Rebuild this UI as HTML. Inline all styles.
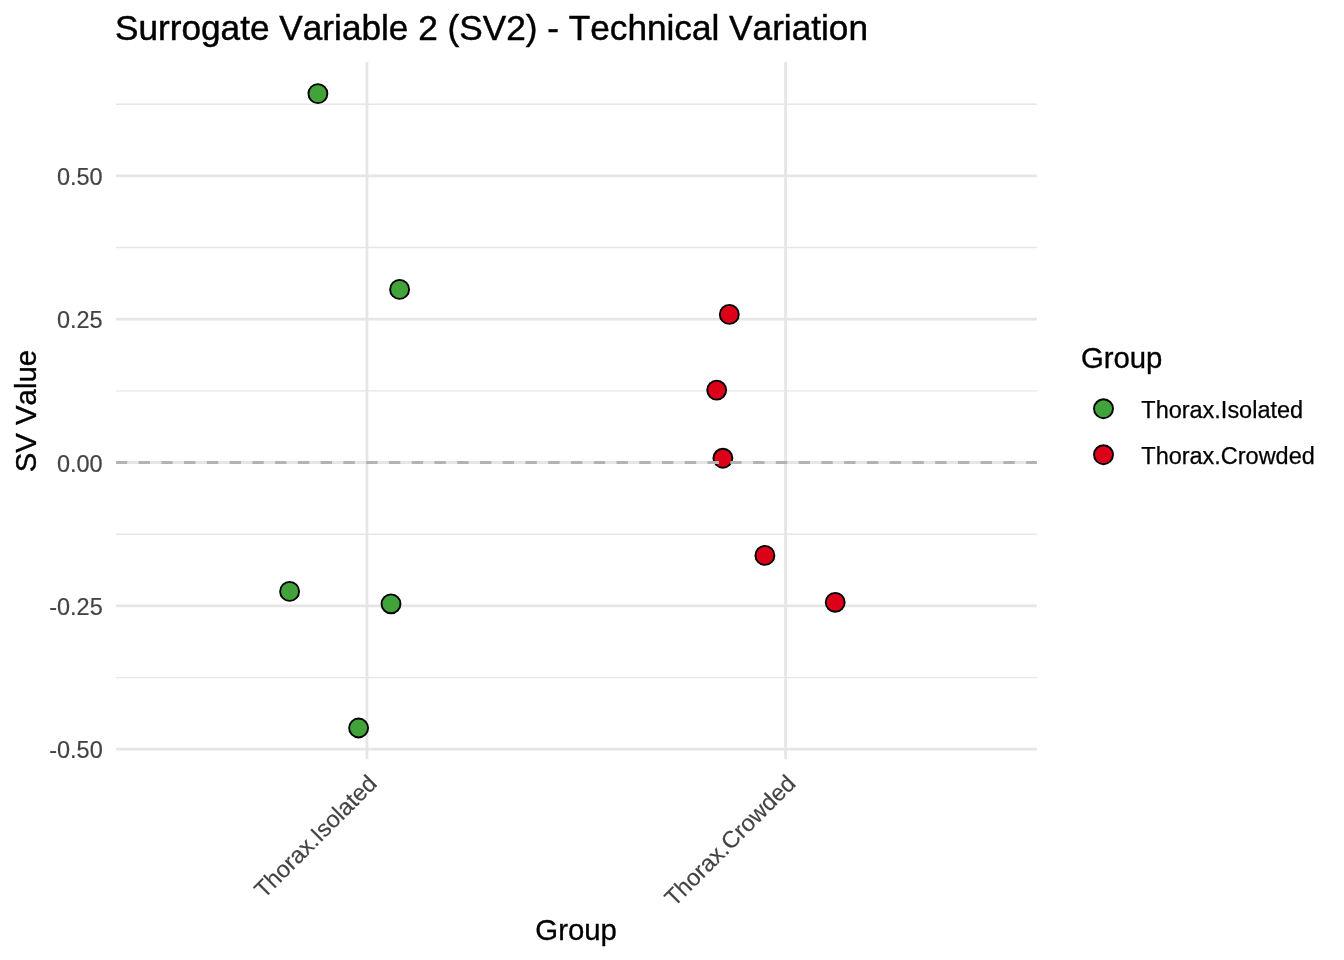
<!DOCTYPE html>
<html>
<head>
<meta charset="utf-8">
<title>Surrogate Variable 2 (SV2) - Technical Variation</title>
<style>
  html, body { margin: 0; padding: 0; background: #ffffff; }
  body { width: 1344px; height: 960px; overflow: hidden; }
  svg { display: block; will-change: transform; }
  text { font-family: "Liberation Sans", sans-serif; font-kerning: none; font-feature-settings: "kern" 0, "liga" 0; }
  .title { font-size: 35.2px; fill: #000000; stroke: #000000; stroke-width: 0.45px; }
  .axt { font-size: 29.33px; fill: #000000; stroke: #000000; stroke-width: 0.32px; }
  .tick { font-size: 23.47px; fill: #434343; stroke: #434343; stroke-width: 0.18px; }
  .leg { font-size: 23.47px; fill: #000000; stroke: #000000; stroke-width: 0.25px; }
  .maj { stroke: #e6e6e6; stroke-width: 2.84; fill: none; }
  .min { stroke: #e6e6e6; stroke-width: 1.42; fill: none; }
  .pt { stroke: #000000; stroke-width: 1.89; }
  .g { fill: #43a33b; }
  .r { fill: #dc0019; }
</style>
</head>
<body>
<svg width="1344" height="960" viewBox="0 0 1344 960">
  <rect x="0" y="0" width="1344" height="960" fill="#ffffff"/>

  <!-- title -->
  <text class="title" x="115.0" y="40">Surrogate Variable 2 (SV2) - Technical Variation</text>

  <!-- minor horizontal gridlines -->
  <g class="min">
    <line x1="116.1" x2="1036.8" y1="104.2" y2="104.2"/>
    <line x1="116.1" x2="1036.8" y1="247.5" y2="247.5"/>
    <line x1="116.1" x2="1036.8" y1="390.9" y2="390.9"/>
    <line x1="116.1" x2="1036.8" y1="534.2" y2="534.2"/>
    <line x1="116.1" x2="1036.8" y1="677.6" y2="677.6"/>
  </g>
  <!-- major horizontal gridlines -->
  <g class="maj">
    <line x1="116.1" x2="1036.8" y1="175.8" y2="175.8"/>
    <line x1="116.1" x2="1036.8" y1="319.2" y2="319.2"/>
    <line x1="116.1" x2="1036.8" y1="462.5" y2="462.5"/>
    <line x1="116.1" x2="1036.8" y1="605.8" y2="605.8"/>
    <line x1="116.1" x2="1036.8" y1="749.2" y2="749.2"/>
    <!-- major vertical gridlines -->
    <line x1="367.0" x2="367.0" y1="62.1" y2="759.2"/>
    <line x1="785.6" x2="785.6" y1="62.1" y2="759.2"/>
  </g>

  <!-- points -->
  <g class="pt">
    <circle class="g" cx="317.9" cy="93.6" r="9.48"/>
    <circle class="g" cx="399.6" cy="289.4" r="9.48"/>
    <circle class="g" cx="289.6" cy="591.4" r="9.48"/>
    <circle class="g" cx="391.0" cy="603.8" r="9.48"/>
    <circle class="g" cx="358.6" cy="728.0" r="9.48"/>
    <circle class="r" cx="729.3" cy="314.4" r="9.48"/>
    <circle class="r" cx="716.7" cy="390.1" r="9.48"/>
    <circle class="r" cx="722.9" cy="458.2" r="9.48"/>
    <circle class="r" cx="764.9" cy="555.4" r="9.48"/>
    <circle class="r" cx="835.2" cy="602.3" r="9.48"/>
  </g>

  <!-- zero reference line -->
  <line x1="116.1" x2="1036.8" y1="462.5" y2="462.5" stroke="#b3b3b3" stroke-width="2.84" stroke-dasharray="11.38 11.38" stroke-dashoffset="0.3"/>

  <!-- y tick labels -->
  <g class="tick" text-anchor="end">
    <text x="102.7" y="185">0.50</text>
    <text x="102.7" y="328">0.25</text>
    <text x="102.7" y="472">0.00</text>
    <text x="102.7" y="615">-0.25</text>
    <text x="102.7" y="758">-0.50</text>
  </g>

  <!-- x tick labels -->
  <g class="tick" text-anchor="end">
    <text transform="translate(378.3,784.9) rotate(-45)">Thorax.Isolated</text>
    <text transform="translate(796.9,784.9) rotate(-45)">Thorax.Crowded</text>
  </g>

  <!-- axis titles -->
  <text class="axt" x="576.1" y="940" text-anchor="middle">Group</text>
  <text class="axt" transform="translate(35.5,411.1) rotate(-90)" text-anchor="middle">SV Value</text>

  <!-- legend -->
  <text class="axt" x="1080.9" y="368">Group</text>
  <g class="pt">
    <circle class="g" cx="1103.5" cy="408.7" r="9.48"/>
    <circle class="r" cx="1103.5" cy="454.7" r="9.48"/>
  </g>
  <text class="leg" x="1141.3" y="418">Thorax.Isolated</text>
  <text class="leg" x="1141.3" y="464">Thorax.Crowded</text>
</svg>
</body>
</html>
